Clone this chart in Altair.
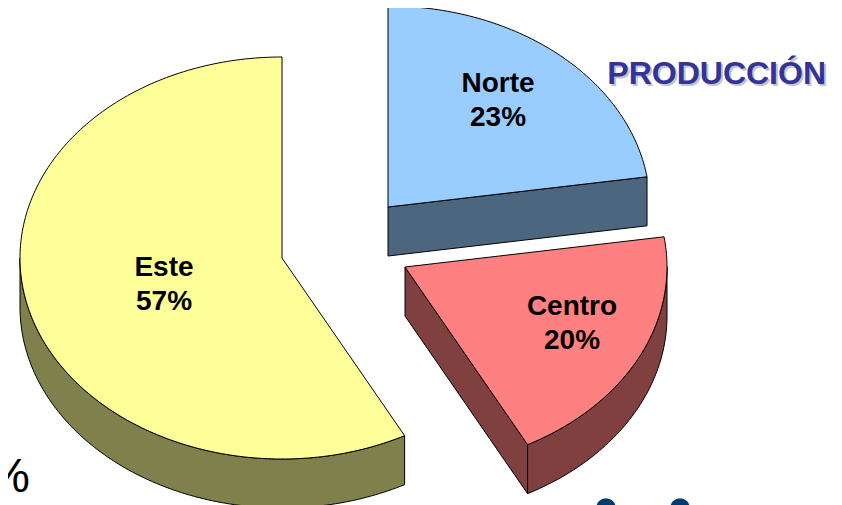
import math
import altair as alt
import pandas as pd

categories = ["Norte", "Centro", "Este"]
percent_labels = ["23%", "20%", "57%"]
shares = [22.6, 19.65, 57.75]
top_colors = ["#99ccff", "#ff8080", "#ffff99"]
side_colors = ["#4d6680", "#804040", "#80804d"]
centers = [(388, 207), (405, 267), (282, 258)]
label_positions = [(498, 84), (572, 307), (164, 268)]
RX, RY, DEPTH = 262, 201, 49
W, H = 826, 497

xs = alt.Scale(domain=[8, 8 + W], nice=False, zero=False)
ys = alt.Scale(domain=[8 + H, 8], nice=False, zero=False)


def rim(c, a):
    r = math.radians(a)
    return (c[0] + RX * math.sin(r), c[1] - RY * math.cos(r))


def arc(c, a0, a1):
    n = max(2, int(abs(a1 - a0)))
    return [rim(c, a0 + (a1 - a0) * i / n) for i in range(n + 1)]


def shape(points, fill):
    pts = points + [points[0]]
    df = pd.DataFrame({"x": [p[0] for p in pts], "y": [p[1] for p in pts], "i": range(len(pts))})
    return alt.Chart(df).mark_line(
        fill=fill, stroke="#000000", strokeWidth=1, clip=False, interpolate="linear"
    ).encode(
        x=alt.X("x:Q", scale=xs, axis=None),
        y=alt.Y("y:Q", scale=ys, axis=None),
        order="i:Q",
    )


def wall(c, a0, a1, fill):
    top = arc(c, a0, a1)
    low = [(x, y + DEPTH) for x, y in reversed(top)]
    return shape(top + low, fill)


def radial(c, a, fill):
    e = rim(c, a)
    return shape([c, e, (e[0], e[1] + DEPTH), (c[0], c[1] + DEPTH)], fill)


angles = []
start = 0.0
for s in shares:
    angles.append((start, start + s * 3.6))
    start += s * 3.6

layers = []
# Este
a0, a1 = angles[2]
layers += [wall(centers[2], a0, 270, side_colors[2]),
           shape([centers[2]] + arc(centers[2], a0, a1), top_colors[2])]
# Norte
a0, a1 = angles[0]
layers += [radial(centers[0], a1, side_colors[0]),
           shape([centers[0]] + arc(centers[0], a0, a1), top_colors[0])]
# Centro
a0, a1 = angles[1]
layers += [radial(centers[1], a1, side_colors[1]),
           wall(centers[1], 90, a1, side_colors[1]),
           shape([centers[1]] + arc(centers[1], a0, a1), top_colors[1])]

rows = []
for (x, y), cat, pct in zip(label_positions, categories, percent_labels):
    rows += [{"x": x, "y": y, "t": cat}, {"x": x, "y": y + 34, "t": pct}]
labels = alt.Chart(pd.DataFrame(rows)).mark_text(
    font="Liberation Sans", fontWeight="bold", fontSize=28, color="#000000", baseline="middle"
).encode(x=alt.X("x:Q", scale=xs, axis=None), y=alt.Y("y:Q", scale=ys, axis=None), text="t:N")


def note(text, x, y, size, color, bold, align, opacity=1.0):
    return alt.Chart(pd.DataFrame({"x": [x], "y": [y], "t": [text]})).mark_text(
        font="Liberation Sans", fontWeight="bold" if bold else "normal", fontSize=size,
        color=color, align=align, baseline="alphabetic", opacity=opacity
    ).encode(x=alt.X("x:Q", scale=xs, axis=None), y=alt.Y("y:Q", scale=ys, axis=None), text="t:N")


texts = [
    note("PRODUCCIÓN", 828, 86, 32, "#c4c4c4", True, "right"),
    note("PRODUCCIÓN", 826, 84, 32, "#333399", True, "right"),
    note("%", 30, 492, 48, "#000000", False, "right"),
]

dots = alt.Chart(pd.DataFrame({"x": [606, 680], "y": [508, 508]})).mark_circle(
    size=380, color="#003a70", opacity=1, clip=True
).encode(x=alt.X("x:Q", scale=xs, axis=None), y=alt.Y("y:Q", scale=ys, axis=None))

chart = alt.layer(*layers, labels, *texts, dots).properties(
    width=W, height=H, padding=0, background="#ffffff", autosize=alt.AutoSizeParams(type="none")
).configure_view(stroke=None)

chart.save("out.html", embed_options={"renderer": "svg", "actions": False})
